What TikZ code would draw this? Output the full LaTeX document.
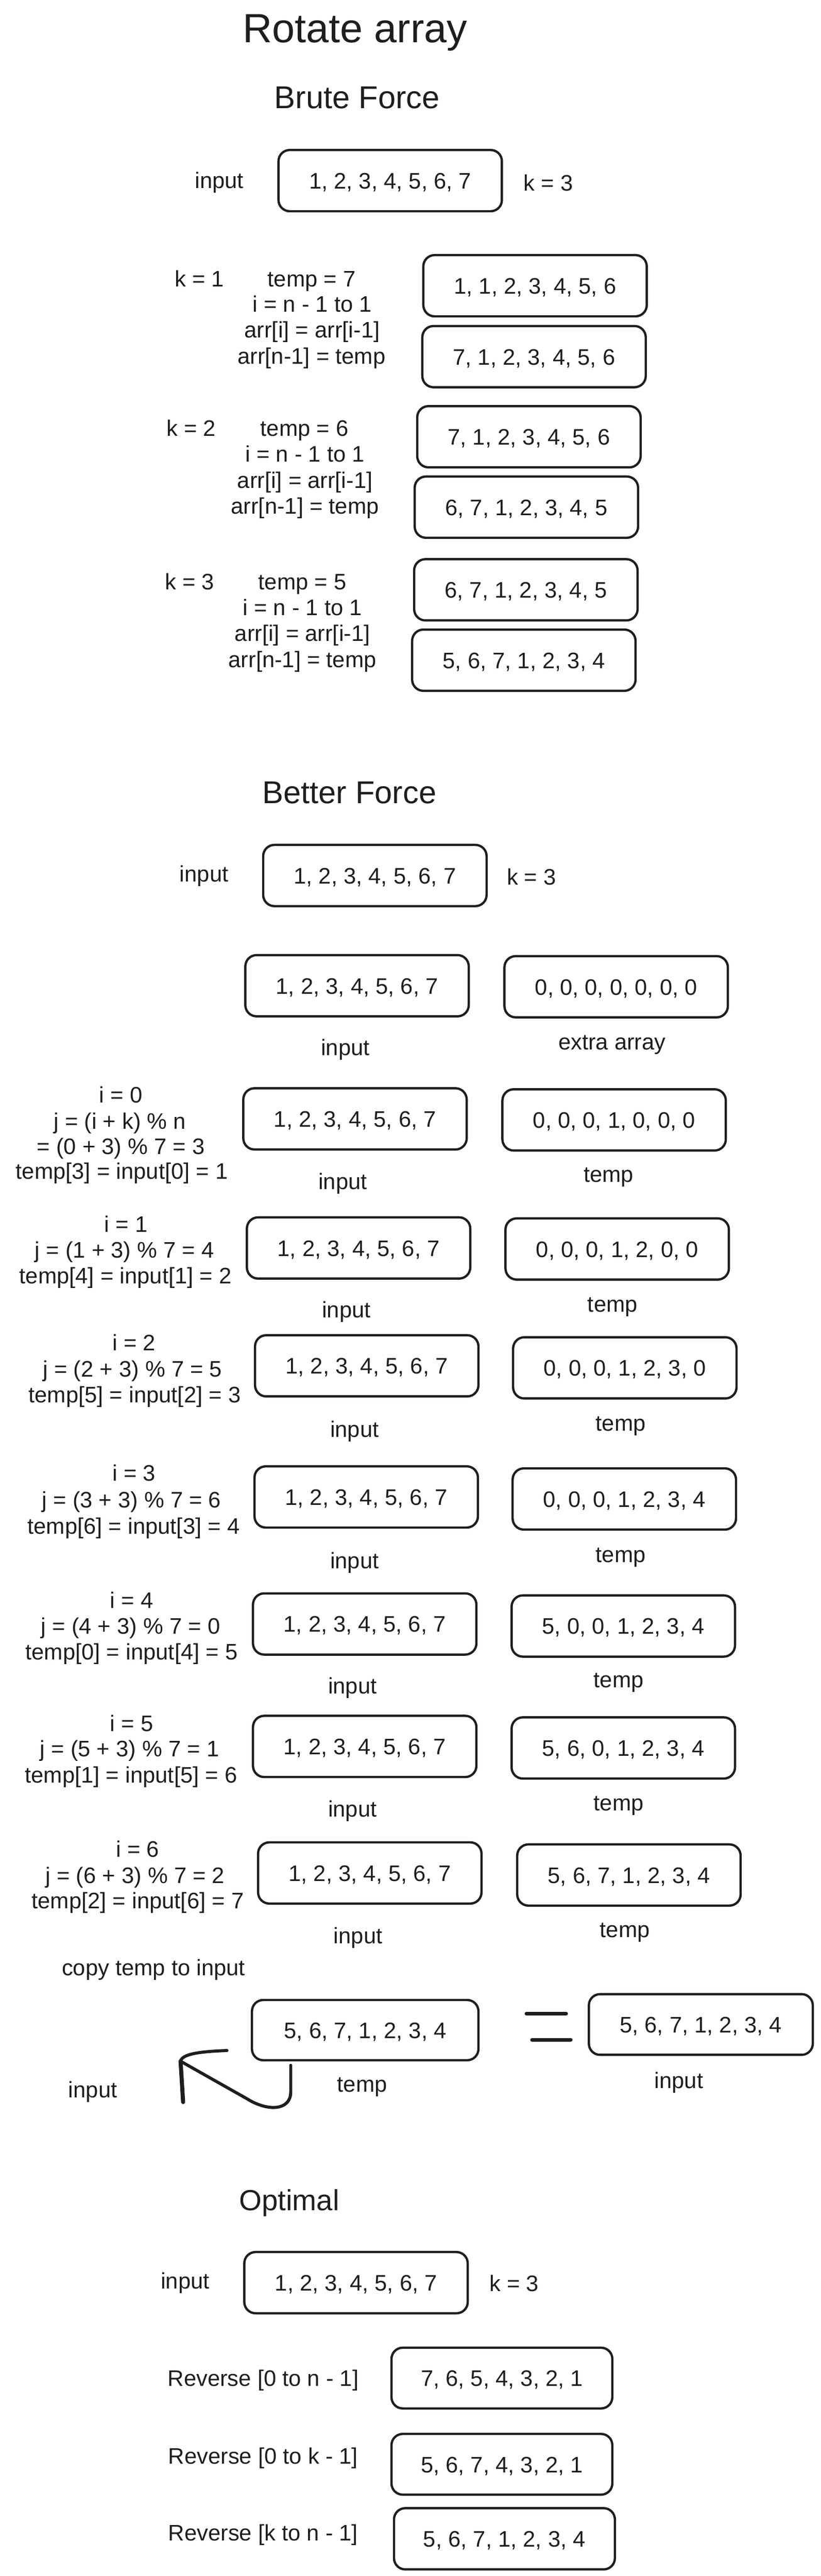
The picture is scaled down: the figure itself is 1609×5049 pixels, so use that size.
\documentclass[tikz,border=0pt]{standalone}
\usepackage{fontspec}
\setmainfont{Liberation Sans}
\definecolor{ink}{HTML}{1E1E1E}
\newcommand{\bodyfont}{\fontsize{44}{50}\selectfont}
\newcommand{\headfont}{\fontsize{62}{70}\selectfont}
\newcommand{\titlefont}{\fontsize{80}{90}\selectfont}
\newcommand{\optfont}{\fontsize{57}{64}\selectfont}
\tikzset{
  arrbox/.style={draw=ink, line width=4.5pt, rounded corners=22pt, minimum width=438pt,
    minimum height=120pt, inner sep=0pt, font=\bodyfont, text=ink, text height=32pt, text depth=0pt},
  lbl/.style={font=\bodyfont, text=ink, inner sep=0pt, anchor=base},
  head/.style={font=\headfont, text=ink, inner sep=0pt, anchor=base},
  stroke/.style={draw=ink, line cap=round, line join=round},
}
\begin{document}
\begin{tikzpicture}[x=1pt,y=-1pt]
\useasboundingbox (0,0) rectangle (1609,5049);
\fill[white] (0,0) rectangle (1609,5049);

% ---------- titles ----------
\node[head, font=\titlefont] (title) at (696,83) {Rotate array};
\node[head] (hbrute) at (700,213) {Brute Force};

% ---------- Brute force ----------
\node[arrbox] (bfin) at (765,354) {1, 2, 3, 4, 5, 6, 7};
\node[lbl] (bfinl) at (430,369) {input};
\node[lbl] (bfk) at (1075,374) {k = 3};

\node[arrbox] (k1a) at (1049,560) {1, 1, 2, 3, 4, 5, 6};
\node[arrbox] (k1b) at (1047,699) {7, 1, 2, 3, 4, 5, 6};
\node[lbl] (k1k) at (391,562) {k = 1};
\node[lbl] (k1t) at (611,562) {temp = 7};
\node[lbl] (k1i) at (612,611) {i = n - 1 to 1};
\node[lbl] (k1s) at (612,662) {arr[i] = arr[i-1]};
\node[lbl] (k1e) at (611,713) {arr[n-1] = temp};

\node[arrbox] (k2a) at (1037,856) {7, 1, 2, 3, 4, 5, 6};
\node[arrbox] (k2b) at (1032,994) {6, 7, 1, 2, 3, 4, 5};
\node[lbl] (k2k) at (375,855) {k = 2};
\node[lbl] (k2t) at (597,855) {temp = 6};
\node[lbl] (k2i) at (598,905) {i = n - 1 to 1};
\node[lbl] (k2s) at (598,957) {arr[i] = arr[i-1]};
\node[lbl] (k2e) at (598,1007) {arr[n-1] = temp};

\node[arrbox] (k3a) at (1031,1156) {6, 7, 1, 2, 3, 4, 5};
\node[arrbox] (k3b) at (1027,1294) {5, 6, 7, 1, 2, 3, 4};
\node[lbl] (k3k) at (372,1156) {k = 3};
\node[lbl] (k3t) at (593,1156) {temp = 5};
\node[lbl] (k3i) at (593,1206) {i = n - 1 to 1};
\node[lbl] (k3s) at (593,1257) {arr[i] = arr[i-1]};
\node[lbl] (k3e) at (593,1308) {arr[n-1] = temp};

% ---------- Better force ----------
\node[head] (hbetter) at (685,1575) {Better Force};
\node[arrbox] (btin) at (735,1716) {1, 2, 3, 4, 5, 6, 7};
\node[lbl] (btinl) at (400,1728) {input};
\node[lbl] (btk) at (1042,1734) {k = 3};

\node[arrbox] (r0in) at (700,1932) {1, 2, 3, 4, 5, 6, 7};
\node[arrbox] (r0ex) at (1208,1934) {0, 0, 0, 0, 0, 0, 0};
\node[lbl] (r0inl) at (677,2069) {input};
\node[lbl] (r0exl) at (1200,2057) {extra array};

% i = 0
\node[arrbox] (s0in) at (696,2193) {1, 2, 3, 4, 5, 6, 7};
\node[arrbox] (s0tp) at (1204,2195) {0, 0, 0, 1, 0, 0, 0};
\node[lbl] (s0a) at (237,2161) {i = 0};
\node[lbl] (s0b) at (235,2213) {j = (i + k) \% n};
\node[lbl] (s0c) at (237,2262) {= (0 + 3) \% 7 = 3};
\node[lbl] (s0d) at (239,2311) {temp[3] = input[0] = 1};
\node[lbl] (s0inl) at (672,2331) {input};
\node[lbl] (s0tpl) at (1193,2317) {temp};

% i = 1
\node[arrbox] (s1in) at (703,2446) {1, 2, 3, 4, 5, 6, 7};
\node[arrbox] (s1tp) at (1210,2448) {0, 0, 0, 1, 2, 0, 0};
\node[lbl] (s1a) at (247,2415) {i = 1};
\node[lbl] (s1b) at (244,2465) {j = (1 + 3) \% 7 = 4};
\node[lbl] (s1d) at (246,2516) {temp[4] = input[1] = 2};
\node[lbl] (s1inl) at (679,2583) {input};
\node[lbl] (s1tpl) at (1201,2571) {temp};

% i = 2
\node[arrbox] (s2in) at (719,2677) {1, 2, 3, 4, 5, 6, 7};
\node[arrbox] (s2tp) at (1225,2681) {0, 0, 0, 1, 2, 3, 0};
\node[lbl] (s2a) at (263,2647) {i = 2};
\node[lbl] (s2b) at (260,2699) {j = (2 + 3) \% 7 = 5};
\node[lbl] (s2d) at (264,2749) {temp[5] = input[2] = 3};
\node[lbl] (s2inl) at (695,2817) {input};
\node[lbl] (s2tpl) at (1217,2805) {temp};

% i = 3
\node[arrbox] (s3in) at (718,2934) {1, 2, 3, 4, 5, 6, 7};
\node[arrbox] (s3tp) at (1224,2938) {0, 0, 0, 1, 2, 3, 4};
\node[lbl] (s3a) at (263,2903) {i = 3};
\node[lbl] (s3b) at (258,2955) {j = (3 + 3) \% 7 = 6};
\node[lbl] (s3d) at (262,3007) {temp[6] = input[3] = 4};
\node[lbl] (s3inl) at (695,3074) {input};
\node[lbl] (s3tpl) at (1217,3062) {temp};

% i = 4
\node[arrbox] (s4in) at (715,3183) {1, 2, 3, 4, 5, 6, 7};
\node[arrbox] (s4tp) at (1222,3187) {5, 0, 0, 1, 2, 3, 4};
\node[lbl] (s4a) at (258,3152) {i = 4};
\node[lbl] (s4b) at (256,3203) {j = (4 + 3) \% 7 = 0};
\node[lbl] (s4d) at (258,3253) {temp[0] = input[4] = 5};
\node[lbl] (s4inl) at (691,3320) {input};
\node[lbl] (s4tpl) at (1213,3308) {temp};

% i = 5
\node[arrbox] (s5in) at (715,3423) {1, 2, 3, 4, 5, 6, 7};
\node[arrbox] (s5tp) at (1222,3426) {5, 6, 0, 1, 2, 3, 4};
\node[lbl] (s5a) at (258,3393) {i = 5};
\node[lbl] (s5b) at (254,3443) {j = (5 + 3) \% 7 = 1};
\node[lbl] (s5d) at (257,3494) {temp[1] = input[5] = 6};
\node[lbl] (s5inl) at (691,3561) {input};
\node[lbl] (s5tpl) at (1213,3549) {temp};

% i = 6
\node[arrbox] (s6in) at (725,3671) {1, 2, 3, 4, 5, 6, 7};
\node[arrbox] (s6tp) at (1233,3675) {5, 6, 7, 1, 2, 3, 4};
\node[lbl] (s6a) at (270,3640) {i = 6};
\node[lbl] (s6b) at (265,3691) {j = (6 + 3) \% 7 = 2};
\node[lbl] (s6d) at (270,3741) {temp[2] = input[6] = 7};
\node[lbl] (s6inl) at (702,3809) {input};
\node[lbl] (s6tpl) at (1225,3797) {temp};

% copy
\node[lbl] (copy) at (301,3872) {copy temp to input};
\node[arrbox, minimum width=444pt, minimum height=118pt] (cptp) at (716,3979) {5, 6, 7, 1, 2, 3, 4};
\node[arrbox, minimum width=439pt, minimum height=119pt] (cpin) at (1374,3968) {5, 6, 7, 1, 2, 3, 4};
\node[lbl] (cptpl) at (710,4100) {temp};
\node[lbl] (cpinl) at (1331,4093) {input};
\node[lbl] (cpleft) at (182,4111) {input};
\draw[stroke, line width=7pt] (1032,3947) -- (1110,3947);
\draw[stroke, line width=7pt] (1043,3998) -- (1119,3998);
\coordinate (arS) at (570,4048);
\coordinate (arT) at (354,4040);
\draw[stroke, line width=6pt] (arS) -- (570,4100) .. controls (570,4137) and (525,4139) .. (485,4114) -- (arT);
\draw[stroke, line width=8pt] (arT) -- (359,4120);
\draw[stroke, line width=6pt] (arT) .. controls (357,4026) and (390,4021) .. (445,4019);

% ---------- Optimal ----------
\node[head, font=\optfont] (hopt) at (567,4332) {Optimal};
\node[arrbox] (opin) at (698,4474) {1, 2, 3, 4, 5, 6, 7};
\node[lbl] (opinl) at (363,4486) {input};
\node[lbl] (opk) at (1008,4491) {k = 3};

\node[arrbox, minimum width=433pt, minimum height=119pt] (rv1) at (984,4661) {7, 6, 5, 4, 3, 2, 1};
\node[lbl] (rv1l) at (516,4677) {Reverse [0 to n - 1]};
\node[arrbox, minimum width=433pt, minimum height=119pt] (rv2) at (984,4830) {5, 6, 7, 4, 3, 2, 1};
\node[lbl] (rv2l) at (516,4829) {Reverse [0 to k - 1]};
\node[arrbox, minimum width=433pt, minimum height=120pt] (rv3) at (989,4976) {5, 6, 7, 1, 2, 3, 4};
\node[lbl] (rv3l) at (516,4980) {Reverse [k to n - 1]};
\end{tikzpicture}
\end{document}
